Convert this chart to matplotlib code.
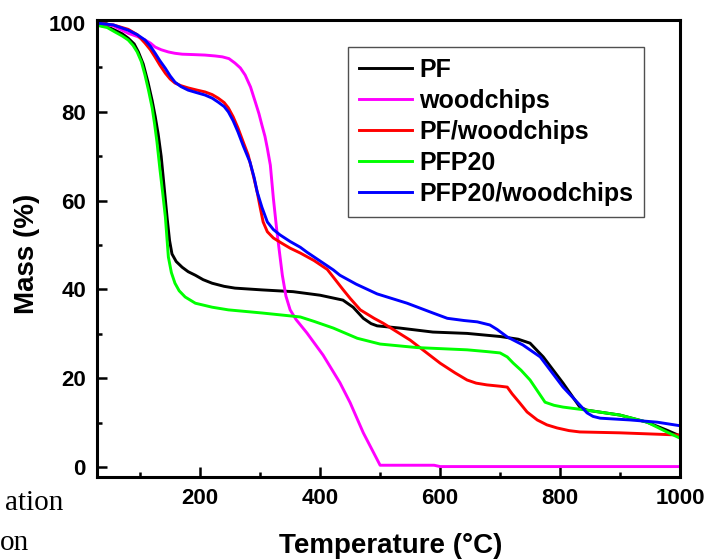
import matplotlib
matplotlib.use('Agg')
import matplotlib.pyplot as plt
from matplotlib.ticker import MultipleLocator

# ---------------- data ----------------
pf_T = [28, 45, 58, 70, 80, 90, 97, 105, 113, 120, 125, 130, 135, 140, 145, 149, 153, 160, 170, 180,
        192, 205, 220, 240, 258, 303, 355, 400, 438, 455, 472, 485, 495, 533, 588, 645, 700, 730,
        750, 772, 805, 833, 845, 900, 945, 978, 1000]
pf_M = [99.6, 99.2, 98.4, 97.6, 96.6, 95.3, 93.5, 90.8, 86.7, 82.5, 79, 75, 70, 63, 56, 51, 48, 46.3,
        45, 44, 43.2, 42.2, 41.4, 40.7, 40.3, 39.9, 39.5, 38.7, 37.6, 36, 33.5, 32.3, 31.8, 31.3, 30.4,
        30.1, 29.4, 28.8, 27.9, 24.8, 18.9, 13.5, 12.8, 11.7, 10.1, 8.3, 7]

wood_T = [28, 55, 80, 95, 108, 117, 125, 135, 147, 158, 170, 190, 208, 225, 237, 248, 258, 267,
          275, 284, 292, 298, 303, 308, 312, 317, 322, 328, 337, 343, 350, 360, 378, 405, 433, 450,
          472, 500, 590, 600, 1000]
wood_M = [100, 99.4, 97.7, 97, 96.2, 95.5, 94.6, 94, 93.5, 93.2, 93, 92.9, 92.8, 92.6, 92.4, 92,
          91, 89.9, 88.3, 85.6, 82.2, 79.6, 77, 74.5, 71.8, 68, 60.6, 53, 43.2, 38.5, 35.4, 33.2,
          30.2, 25.2, 19, 14.5, 7.7, 0.4, 0.4, 0.1, 0.1]

pfw_T = [28, 55, 80, 95, 108, 117, 125, 133, 142, 150, 158, 168, 180, 195, 208, 220, 230, 240,
         247, 255, 263, 271, 280, 288, 295, 300, 305, 312, 322, 335, 350, 367, 390, 412, 438, 450,
         467, 490, 505, 550, 600, 625, 645, 660, 678, 700, 712, 720, 733, 745, 762, 778, 795, 815,
         833, 900, 1000]
pfw_M = [100, 99.6, 98.6, 97.4, 95.5, 94, 92.3, 90.5, 88.7, 87.4, 86.5, 85.9, 85.4, 84.9, 84.5,
         83.9, 83.1, 82.1, 80.9, 78.9, 76.4, 73.5, 70.3, 66, 62, 58.5, 55.2, 53, 51.6, 50.5, 49.3,
         48.2, 46.5, 44.5, 40, 38, 35.4, 33.5, 32.4, 28.6, 23.4, 21.2, 19.6, 18.9, 18.5, 18.2, 18,
         16.5, 14.4, 12.4, 10.6, 9.5, 8.8, 8.2, 7.9, 7.7, 7.2]

pfp_T = [28, 45, 58, 70, 80, 88, 95, 102, 108, 114, 120, 124, 128, 133, 138, 142, 147, 152, 158,
         165, 175, 192, 220, 247, 303, 353, 367, 390, 422, 462, 500, 562, 645, 678, 700, 712, 722,
         735, 750, 763, 775, 790, 805, 845, 900, 945, 978, 1000]
pfp_M = [99.5, 99, 98, 97.1, 96.2, 95, 93.5, 91.3, 88.3, 84.8, 80.9, 77.3, 73.2, 67, 61.2, 56.3,
         47.3, 43.8, 41.4, 39.7, 38.3, 36.9, 36, 35.4, 34.7, 34, 33.8, 32.8, 31.3, 29, 27.7, 26.9,
         26.4, 26, 25.7, 24.8, 23.4, 21.8, 19.6, 17, 14.6, 13.9, 13.5, 12.8, 11.7, 10.1, 7.9, 6.5]

pfpw_T = [28, 55, 80, 95, 108, 117, 125, 133, 142, 150, 158, 168, 180, 195, 208, 220, 230, 240,
          247, 255, 263, 272, 283, 290, 295, 303, 312, 322, 333, 350, 367, 378, 400, 422, 433, 460,
          495, 545, 588, 612, 640, 662, 683, 695, 712, 738, 767, 805, 830, 845, 855, 867, 917, 962,
          1000]
pfpw_M = [100, 99.6, 98.4, 97.4, 96.2, 94.8, 93.2, 91.5, 89.8, 88.1, 86.7, 85.7, 84.9, 84.3, 83.8,
          83.1, 82.2, 81.2, 80, 78, 75.5, 72.3, 68.7, 65.2, 62, 58.5, 55.2, 53.5, 52.3, 50.8, 49.5,
          48.4, 46.4, 44.4, 43.2, 41.2, 39, 36.9, 34.7, 33.5, 33, 32.7, 32, 31, 29.3, 27.5, 24.8, 18,
          14.4, 12.2, 11.4, 11, 10.6, 10.1, 9.3]

series = [(pf_T, pf_M, 'black', 'PF'),
          (wood_T, wood_M, '#ff00ff', 'woodchips'),
          (pfw_T, pfw_M, '#ff0000', 'PF/woodchips'),
          (pfp_T, pfp_M, '#00ff00', 'PFP20'),
          (pfpw_T, pfpw_M, '#0000ff', 'PFP20/woodchips')]

x_ticks = [200, 400, 600, 800, 1000]
y_ticks = [0, 20, 40, 60, 80, 100]

# ---------------- style ----------------
graphic_font = 'Liberation Sans'
spine_width = 2.2
linewidth = 2.1
tick_labelsize = 16
label_fontsize = 20
legend_fontsize = 18

plt.rcParams['font.family'] = graphic_font
plt.rcParams['font.weight'] = 'bold'

fig = plt.figure(figsize=(7.08, 5.59), dpi=100)
ax = fig.add_axes([97 / 708, 82 / 559, 583 / 708, 457 / 559])

for T, M, c, lab in series:
    ax.plot(T, M, color=c, linewidth=linewidth, label=lab)

ax.set_xlim(28, 1000)
ax.set_ylim(-2.25, 100.7)
ax.set_xticks(x_ticks)
ax.set_yticks(y_ticks)
ax.xaxis.set_minor_locator(MultipleLocator(100))
ax.yaxis.set_minor_locator(MultipleLocator(10))

for s in ax.spines.values():
    s.set_linewidth(spine_width)

ax.tick_params(axis='both', which='major', direction='in', width=1.8, length=7,
               labelsize=tick_labelsize, pad=8)
ax.tick_params(axis='both', which='minor', direction='in', width=1.8, length=3.5)
for lab in ax.get_xticklabels() + ax.get_yticklabels():
    lab.set_fontweight('bold')

ax.set_xlabel('Temperature (°C)', fontsize=label_fontsize, fontweight='bold')
ax.set_ylabel('Mass (%)', fontsize=label_fontsize, fontweight='bold')
ax.xaxis.set_label_coords(0.504, -0.122)
ax.yaxis.set_label_coords(-0.098, 0.488)

leg = ax.legend(loc='upper left', bbox_to_anchor=(0.4305, 0.941), borderaxespad=0,
                fontsize=legend_fontsize, handlelength=2.1, handletextpad=0.3,
                labelspacing=0.28, borderpad=0.45, fancybox=False, framealpha=1)
for t in leg.get_texts():
    t.set_fontweight('bold')
frame = leg.get_frame()
frame.set_linewidth(1.0)
frame.set_edgecolor('#505050')

# fragments of the surrounding document caption
fig.text(63 / 708, 1 - 510 / 559, 'ation', ha='right', va='baseline',
         family='Liberation Serif', fontweight='normal', fontsize=21)
fig.text(29 / 708, 1 - 550 / 559, 'on', ha='right', va='baseline',
         family='Liberation Serif', fontweight='normal', fontsize=21)

fig.savefig('out.png', dpi=100)
